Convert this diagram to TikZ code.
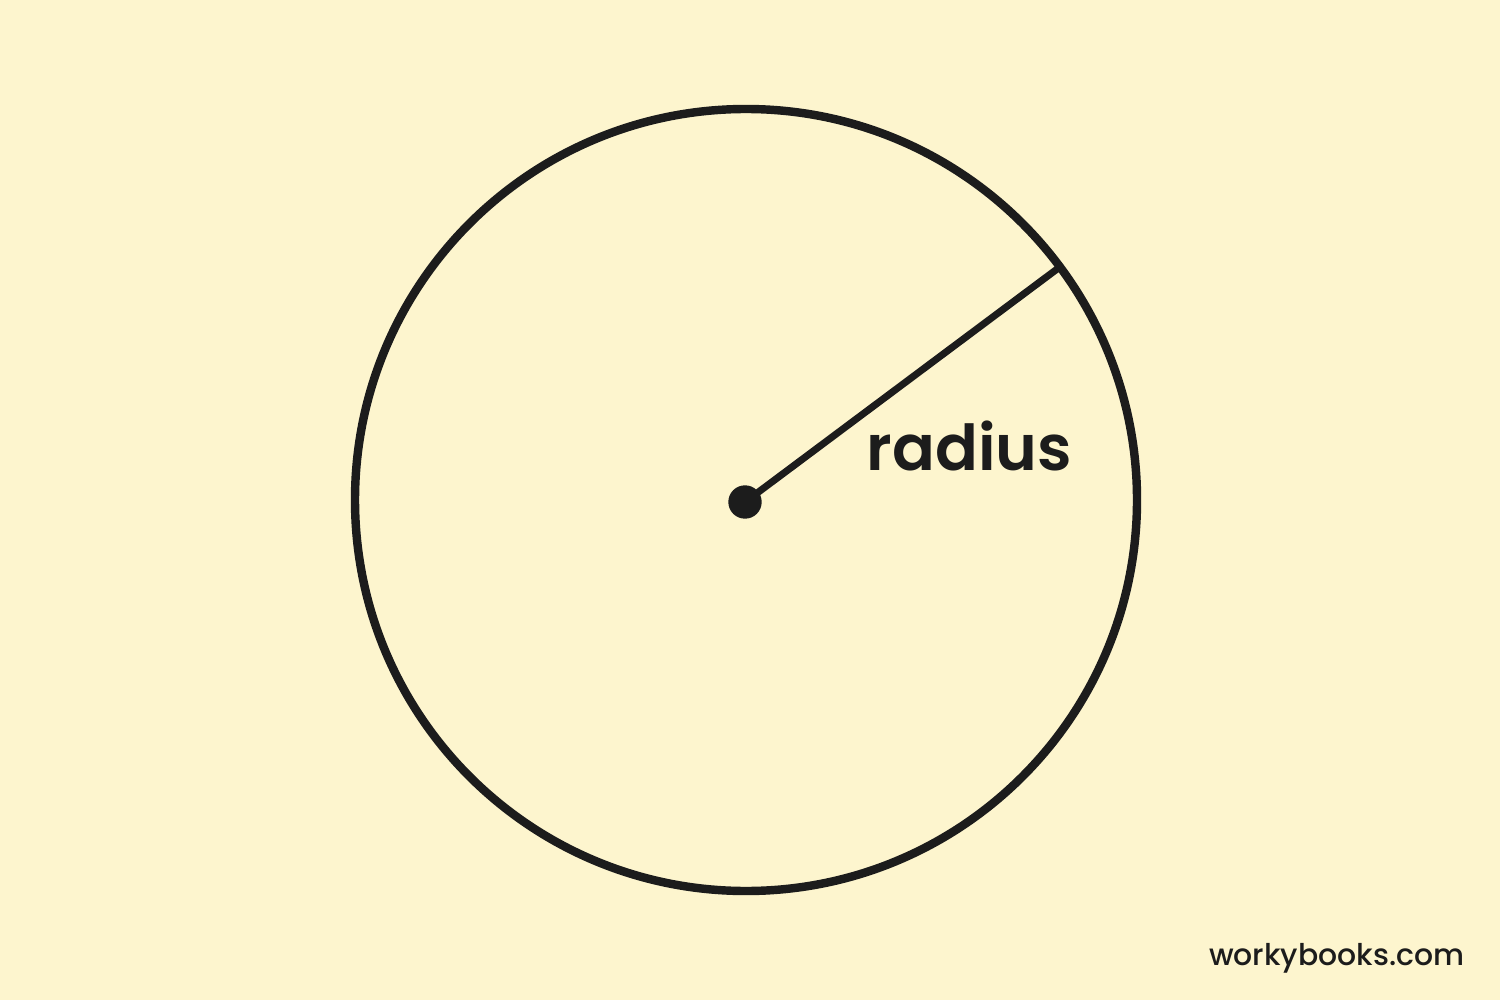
\documentclass[tikz,border=0pt]{standalone}
\usepackage{fontspec}
\setmainfont{Poppins}[UprightFont=* Medium, BoldFont=* SemiBold]
\definecolor{paper}{HTML}{FDF5CE}
\definecolor{ink}{HTML}{1C1C1C}
\begin{document}
\begin{tikzpicture}[scale=0.1]
	\tikzstyle{every node}+=[inner sep=0pt]
	\fill [paper] (0,0) rectangle (150,-100);
	\useasboundingbox (0,0) rectangle (150,-100);
	\draw [ink, line width=2.4pt] (74.6,-50) circle (39.1);
	\node (O) [circle, fill=ink, minimum size=9.5pt] at (74.5,-50.2) {};
	\path (74.6,-50) ++(36.6:38.9) coordinate (R);
	\draw [ink, line width=2pt] (O.center) -- (R);
	\node (lbl) [anchor=base west, text=ink, font=\fontsize{18}{22}\selectfont\bfseries] at (86.6,-47) {radius};
	\node (site) [anchor=base east, text=ink, font=\fontsize{8.5}{10}\selectfont] at (146.5,-96.5) {workybooks.com};
\end{tikzpicture}
\end{document}
